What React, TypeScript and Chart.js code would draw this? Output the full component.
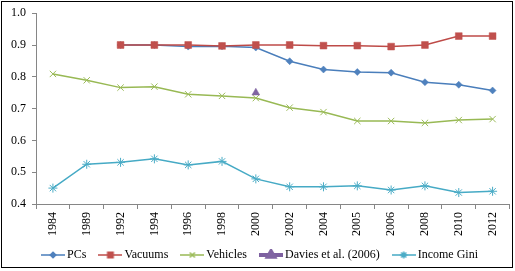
import React, { useEffect, useRef } from 'react';
import { Chart, registerables } from 'chart.js';
import { drawPoint } from 'chart.js/helpers';

Chart.register(...registerables);

const years = ['1984', '1989', '1992', '1994', '1996', '1998', '2000', '2002', '2004', '2005', '2006', '2008', '2010', '2012'];
const pcs = [null, null, 0.9, 0.9, 0.895, 0.896, 0.892, 0.849, 0.823, 0.815, 0.813, 0.783, 0.775, 0.757];
const vacuums = [null, null, 0.9, 0.9, 0.9, 0.897, 0.9, 0.9, 0.898, 0.898, 0.895, 0.9, 0.928, 0.928];
const vehicles = [0.809, 0.789, 0.766, 0.769, 0.745, 0.74, 0.733, 0.703, 0.689, 0.661, 0.661, 0.655, 0.664, 0.667];
const davies = [null, null, null, null, null, null, 0.75, null, null, null, null, null, null, null];
const gini = [0.45, 0.525, 0.531, 0.542, 0.523, 0.534, 0.479, 0.454, 0.454, 0.457, 0.444, 0.457, 0.436, 0.44];

const seriesNames = ['PCs', 'Vacuums', 'Vehicles', 'Davies et al. (2006)', 'Income Gini'];
const lineColors = ['#4A7EBB', '#BE4B48', '#98B954', '#7D60A0', '#46AAC5'];
const markerColors = ['#4F81BD', '#C0504D', '#9BBB59', '#8064A2', '#4BACC6'];
const markerStyles = ['rectRot', 'rect', 'crossRot', 'triangle', 'star'];
const markerRadius = [3.5, 4.8, 4.5, 4.5, 4.5];
const legendLineWidth = [1.5, 1.5, 1.5, 4, 1.5];

const FONT = "'Liberation Serif', 'Times New Roman', serif";

function makeLegendIcon(i: number) {
  const c = document.createElement('canvas');
  c.width = 24;
  c.height = 12;
  const ctx = c.getContext('2d')!;
  ctx.strokeStyle = lineColors[i];
  ctx.lineWidth = legendLineWidth[i];
  ctx.beginPath();
  ctx.moveTo(0, 6);
  ctx.lineTo(24, 6);
  ctx.stroke();
  ctx.fillStyle = markerColors[i];
  ctx.strokeStyle = markerColors[i];
  const filled = markerStyles[i] === 'rect' || markerStyles[i] === 'rectRot' || markerStyles[i] === 'triangle';
  drawPoint(ctx as any, { pointStyle: markerStyles[i] as any, radius: markerRadius[i] * 0.8, rotation: 0, borderWidth: filled ? 0.5 : 1 } as any, 12, 6);
  return c;
}

export default function App() {
  const ref = useRef<HTMLCanvasElement | null>(null);
  useEffect(() => {
    if (!ref.current) return;
    const dataArrays = [pcs, vacuums, vehicles, davies, gini];
    const icons = seriesNames.map((_, i) => makeLegendIcon(i));
    const borderPlugin = {
      id: 'outerBorder',
      afterLayout(chart: any) {
        if (chart.legend) {
          chart.legend.left += 4;
          chart.legend.right += 4;
        }
        if (chart.scales && chart.scales.x) {
          chart.scales.x.bottom += 12;
        }
      },
      afterDraw(chart: any) {
        const ctx = chart.ctx;
        ctx.save();
        ctx.strokeStyle = '#000000';
        ctx.lineWidth = 1;
        ctx.strokeRect(1.5, 1.5, 511, 266);
        ctx.restore();
      },
    };
    const chart = new Chart(ref.current, {
      type: 'line',
      data: {
        labels: years,
        datasets: seriesNames.map((name, i) => ({
          label: name,
          data: dataArrays[i] as any,
          borderColor: lineColors[i],
          backgroundColor: markerColors[i],
          borderWidth: i === 3 ? 0 : 1.5,
          showLine: i !== 3,
          pointStyle: markerStyles[i] as any,
          pointRadius: markerRadius[i],
          pointBorderColor: markerColors[i],
          pointBackgroundColor: markerColors[i],
          pointBorderWidth: i === 2 || i === 4 ? 1 : 0.5,
          tension: 0,
          spanGaps: false,
          order: 5 - i,
        })),
      },
      options: {
        responsive: false,
        animation: false,
        devicePixelRatio: 1,
        layout: { padding: { left: 4, right: 4, top: 11, bottom: 0 } },
        plugins: {
          tooltip: { enabled: false },
          legend: {
            position: 'bottom',
            labels: {
              usePointStyle: true,
              pointStyleWidth: 16,
              padding: 16,
              color: '#000000',
              font: { family: FONT, size: 12 },
              generateLabels: (chart: any) =>
                chart.data.datasets.map((ds: any, i: number) => ({
                  text: ds.label,
                  fillStyle: markerColors[i],
                  strokeStyle: markerColors[i],
                  lineWidth: 0,
                  pointStyle: icons[i],
                  hidden: false,
                  datasetIndex: i,
                  fontColor: '#000000',
                })),
            },
          },
        },
        scales: {
          x: {
            type: 'category',
            offset: true,
            grid: { display: true, offset: true, drawOnChartArea: false, tickLength: 5, color: '#868686' },
            border: { display: true, color: '#868686' },
            ticks: {
              autoSkip: false,
              minRotation: 90,
              maxRotation: 90,
              padding: 3,
              color: '#000000',
              font: { family: FONT, size: 12 },
            },
            afterFit: (scale: any) => {
              scale.height = 29;
            },
          },
          y: {
            min: 0.4,
            max: 1.0,
            grid: { display: true, drawOnChartArea: false, tickLength: 4, color: '#868686' },
            border: { display: true, color: '#868686' },
            ticks: {
              stepSize: 0.1,
              padding: 6,
              color: '#000000',
              font: { family: FONT, size: 12 },
              callback: (v: any) => Number(v).toFixed(1),
            },
            afterFit: (scale: any) => {
              scale.width = 32;
            },
          },
        },
      },
      plugins: [borderPlugin],
    });
    return () => chart.destroy();
  }, []);
  return (
    <div style={{ position: 'absolute', left: 0, top: 0, width: 515, height: 271, background: '#ffffff' }}>
      <canvas ref={ref} width={515} height={271} />
    </div>
  );
}
